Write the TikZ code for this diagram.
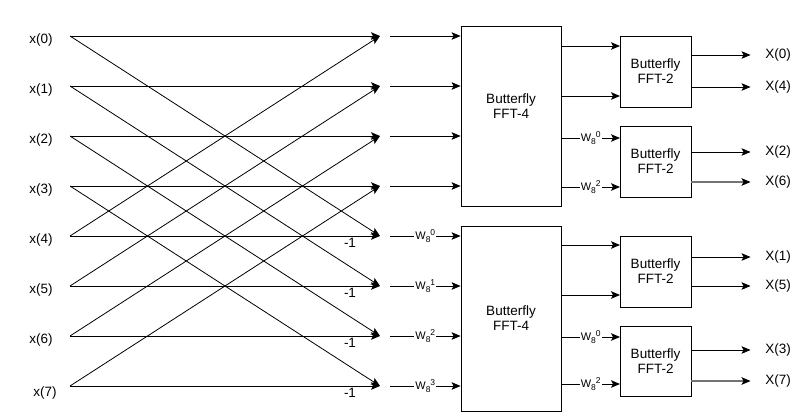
\documentclass[tikz,border=0pt]{standalone}
\usepackage{fontspec}
\setmainfont{Liberation Sans}
\usepackage{tikz}
\usetikzlibrary{arrows.meta}
\newcommand{\wfactor}[1]{W\raisebox{-2.5pt}{\fontsize{8.5}{9}\selectfont 8}%
  \raisebox{4pt}{\fontsize{8.5}{9}\selectfont #1}}
\tikzset{
  fftarrow/.style={-{Stealth[length=9pt,width=7.5pt,inset=2pt]},
    line width=0.8pt, draw=black},
  outarrow/.style={fftarrow, shorten >=12.5pt},
  grayarrow/.style={-{Stealth[length=9pt,width=7.5pt,inset=2pt,
    color=black]}, shorten >=12.5pt, draw=black!55, line width=1.5pt},
  fftbox/.style={draw=black, fill=white, line width=0.8pt,
    align=center, inner sep=2pt, font=\fontsize{13.5}{15}\selectfont},
  fftlabel/.style={inner sep=2pt, font=\fontsize{13.5}{15}\selectfont},
  twiddle/.style={fill=white, inner sep=1pt,
    font=\fontsize{11}{13}\selectfont}
}

\begin{document}
\begin{tikzpicture}[x=1pt,y=-1pt]
  \useasboundingbox (0,0) rectangle (801,412);

  % inputs
  \node[fftlabel] (in0) at (41,40) {x(0)};
  \node[fftlabel] (in1) at (41,90) {x(1)};
  \node[fftlabel] (in2) at (41,140) {x(2)};
  \node[fftlabel] (in3) at (41,190) {x(3)};
  \node[fftlabel] (in4) at (41,240) {x(4)};
  \node[fftlabel] (in5) at (41,290) {x(5)};
  \node[fftlabel] (in6) at (41,340) {x(6)};
  \node[fftlabel] (in7) at (45,393) {x(7)};

  \coordinate (a0) at (70,36);  \coordinate (b0) at (380,36);
  \coordinate (a1) at (70,86);  \coordinate (b1) at (380,86);
  \coordinate (a2) at (70,136); \coordinate (b2) at (380,136);
  \coordinate (a3) at (70,186); \coordinate (b3) at (380,186);
  \coordinate (a4) at (70,236); \coordinate (b4) at (380,236);
  \coordinate (a5) at (70,286); \coordinate (b5) at (380,286);
  \coordinate (a6) at (70,336); \coordinate (b6) at (380,336);
  \coordinate (a7) at (70,386); \coordinate (b7) at (380,386);

  % first stage butterflies
  \draw[fftarrow] (a0) -- (b0);
  \draw[fftarrow] (a1) -- (b1);
  \draw[fftarrow] (a2) -- (b2);
  \draw[fftarrow] (a3) -- (b3);
  \draw[fftarrow] (a4) -- (b4);
  \draw[fftarrow] (a5) -- (b5);
  \draw[fftarrow] (a6) -- (b6);
  \draw[fftarrow] (a7) -- (b7);
  \draw[fftarrow] (a0) -- (b4);
  \draw[fftarrow] (a1) -- (b5);
  \draw[fftarrow] (a2) -- (b6);
  \draw[fftarrow] (a3) -- (b7);
  \draw[fftarrow] (a4) -- (b0);
  \draw[fftarrow] (a5) -- (b1);
  \draw[fftarrow] (a6) -- (b2);
  \draw[fftarrow] (a7) -- (b3);

  \node[fftlabel] (neg4) at (350,243) {-1};
  \node[fftlabel] (neg5) at (350,293) {-1};
  \node[fftlabel] (neg6) at (350,343) {-1};
  \node[fftlabel] (neg7) at (350,393) {-1};

  % FFT-4 blocks
  \node[fftbox, minimum width=100pt, minimum height=180pt] (fft4a)
    at (511,116) {};
  \node[fftlabel, align=center] (fft4atext) at (511,106)
    {Butterfly\\FFT-4};
  \node[fftbox, minimum width=100pt, minimum height=185pt] (fft4b)
    at (511,318.5) {Butterfly\\FFT-4};

  \coordinate (c0) at (390,36);
  \coordinate (c1) at (390,86);
  \coordinate (c2) at (390,136);
  \coordinate (c3) at (390,186);
  \coordinate (c4) at (390,236);
  \coordinate (c5) at (390,286);
  \coordinate (c6) at (390,336);
  \coordinate (c7) at (390,386);

  \draw[fftarrow] (c0) -- (c0 -| fft4a.west);
  \draw[fftarrow] (c1) -- (c1 -| fft4a.west);
  \draw[fftarrow] (c2) -- (c2 -| fft4a.west);
  \draw[fftarrow] (c3) -- (c3 -| fft4a.west);
  \draw[fftarrow] (c4) -- node[twiddle] {\wfactor{0}} (c4 -| fft4b.west);
  \draw[fftarrow] (c5) -- node[twiddle] {\wfactor{1}} (c5 -| fft4b.west);
  \draw[fftarrow] (c6) -- node[twiddle] {\wfactor{2}} (c6 -| fft4b.west);
  \draw[fftarrow] (c7) -- node[twiddle] {\wfactor{3}} (c7 -| fft4b.west);

  % FFT-2 blocks
  \node[fftbox, minimum width=71pt, minimum height=71pt] (fft2a)
    at (655.5,71.5) {Butterfly\\FFT-2};
  \node[fftbox, minimum width=71pt, minimum height=71pt] (fft2b)
    at (655.5,161.5) {Butterfly\\FFT-2};
  \node[fftbox, minimum width=71pt, minimum height=71pt] (fft2c)
    at (655.5,271.5) {Butterfly\\FFT-2};
  \node[fftbox, minimum width=71pt, minimum height=70pt] (fft2d)
    at (655.5,361) {Butterfly\\FFT-2};

  \coordinate (d0) at (620,46);
  \coordinate (d1) at (620,96);
  \coordinate (d2) at (620,138);
  \coordinate (d3) at (620,187);
  \coordinate (d4) at (620,245);
  \coordinate (d5) at (620,295);
  \coordinate (d6) at (620,337);
  \coordinate (d7) at (620,384);

  \draw[fftarrow] (fft4a.east |- d0) -- (d0);
  \draw[fftarrow] (fft4a.east |- d1) -- (d1);
  \draw[fftarrow] (fft4a.east |- d2) -- node[twiddle] {\wfactor{0}} (d2);
  \draw[fftarrow] (fft4a.east |- d3) -- node[twiddle] {\wfactor{2}} (d3);
  \draw[fftarrow] (fft4b.east |- d4) -- (d4);
  \draw[fftarrow] (fft4b.east |- d5) -- (d5);
  \draw[fftarrow] (fft4b.east |- d6) -- node[twiddle] {\wfactor{0}} (d6);
  \draw[fftarrow] (fft4b.east |- d7) -- node[twiddle] {\wfactor{2}} (d7);

  % outputs
  \node[fftlabel] (X0) at (778,55) {X(0)};
  \node[fftlabel] (X4) at (778,87) {X(4)};
  \node[fftlabel] (X2) at (778,152) {X(2)};
  \node[fftlabel] (X6) at (778,182) {X(6)};
  \node[fftlabel] (X1) at (778,257) {X(1)};
  \node[fftlabel] (X5) at (778,286) {X(5)};
  \node[fftlabel] (X3) at (778,350) {X(3)};
  \node[fftlabel] (X7) at (778,381) {X(7)};

  \draw[outarrow] (fft2a.east |- X0.west) -- (X0.west);
  \draw[outarrow] (fft2a.east |- X4.west) -- (X4.west);
  \draw[outarrow] (fft2b.east |- X2.west) -- (X2.west);
  \draw[grayarrow] (fft2b.east |- X6.west) -- (X6.west);
  \draw[outarrow] (fft2c.east |- X1.west) -- (X1.west);
  \draw[outarrow] (fft2c.east |- X5.west) -- (X5.west);
  \draw[outarrow] (fft2d.east |- X3.west) -- (X3.west);
  \draw[grayarrow] (fft2d.east |- X7.west) -- (X7.west);
\end{tikzpicture}
\end{document}
